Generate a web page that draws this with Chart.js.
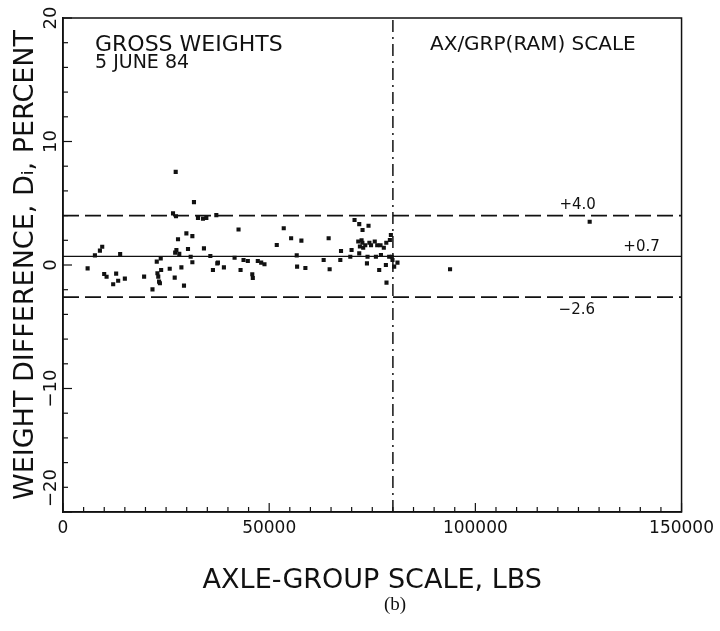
<!DOCTYPE html>
<html><head><meta charset="utf-8">
<script src="https://cdn.jsdelivr.net/npm/chart.js@4.4.0/dist/chart.umd.min.js"></script>
<style>html,body{margin:0;padding:0;background:#fff}#wrap{width:720px;height:631px;position:relative}</style>
</head><body><div id="wrap"><canvas id="c" width="720" height="631"></canvas></div>
<script>
// Axle-group scale weight (lbs) and weight difference Di (percent)
const axleGroupLbs = [
  5970, 7740, 8950, 9510, 9990, 10570, 12170, 12890, 13380, 13860, 15000,
  19670, 21700, 22740, 22900, 23100, 23300, 23500, 23700, 23800, 25880,
  26680, 27400, 27090, 27330, 27500, 27200, 27890, 28200, 28710, 29340,
  29920, 30310, 30960, 31370, 31370, 31760, 32730, 33940, 34180, 34760,
  35730, 36360, 37180, 37420, 37570, 39020, 41610, 42570, 43060, 43780,
  44820, 45900, 46030, 47240, 48060, 48860, 51840, 53530, 55320, 56680,
  56770, 57810, 58780, 63210, 64420, 64660, 67250, 67420, 69670, 69980,
  70700, 71840, 72640, 74090, 71600, 72000, 72400, 72800, 73300, 72600,
  74300, 74700, 75600, 76200, 77000, 77800, 78400, 79510, 79270, 71840,
  73850, 73710, 75880, 77100, 76680, 79100, 79750, 79900, 80310, 81110,
  78300, 78450, 93860, 127720
];
const weightDiffPct = [
  -0.27, 0.78, 1.16, 1.48, -0.73, -0.95, -1.56, -0.70, -1.27, 0.89, -1.10,
  -0.94, -1.97, 0.27, -0.67, -0.94, -1.35, -1.48, 0.54, -0.40, -0.30,
  4.18, 3.95, -1.02, 7.54, 1.21, 1.00, 2.08, 0.90, -0.19, -1.67,
  2.56, 1.29, 0.67, 2.34, 0.22, 5.09, 3.80, 3.75, 1.35, 3.80,
  0.73, -0.40, 4.04, 0.13, 0.19, -0.19, 0.59, 2.88, -0.40, 0.40,
  0.32, -0.75, -1.05, 0.32, 0.19, 0.06, 1.62, 2.97, 2.16, 0.78,
  -0.13, 1.97, -0.24, 0.40, 2.16, -0.35, 0.40, 1.13, 0.67, 1.21,
  3.64, 3.31, 2.83, 3.18, 1.90, 1.50, 2.00, 1.40, 1.60, 1.80,
  1.80, 1.60, 1.90, 1.60, 1.60, 1.40, 1.80, 2.43, 2.02, 0.94,
  0.67, 0.13, 0.67, 0.81, -0.40, 0.67, 0.67, 0.40, -0.13, 0.19,
  0.00, -1.43, -0.35, 3.50
];
const upperLimit = 4.0;
const meanDiff = 0.7;
const lowerLimit = -2.6;
const scaleCapacityLbs = 80000;
const xRange = [0, 150000];
const yRange = [-20, 20];
const yTickLabels = [20, 10, 0, -10, -20];
const limitLabels = ['+4.0', '+0.7', '\u22122.6'];

const points = axleGroupLbs.map((x, i) => ({x: x, y: weightDiffPct[i]}));
const hLine = v => [{x: xRange[0], y: v}, {x: xRange[1], y: v}];

const FONT = "'DejaVu Sans', sans-serif";

const decor = {
  id: 'decor',
  afterDraw(chart) {
    const ctx = chart.ctx, a = chart.chartArea;
    const xs = chart.scales.x, ys = chart.scales.y;
    ctx.save();
    ctx.strokeStyle = '#111';
    ctx.lineWidth = 1.5;
    ctx.strokeRect(a.left, a.top, a.right - a.left, a.bottom - a.top);
    // inward tick marks
    ctx.lineWidth = 1.2;
    for (let v = yRange[0]; v <= yRange[1]; v += 2) {
      const py = ys.getPixelForValue(v);
      const len = (v % 10 === 0) ? 9 : 5;
      ctx.beginPath(); ctx.moveTo(a.left, py); ctx.lineTo(a.left + len, py); ctx.stroke();
    }
    for (let v = xRange[0]; v <= xRange[1]; v += 5000) {
      const px = xs.getPixelForValue(v);
      const len = (v % 50000 === 0) ? 9 : 5;
      ctx.beginPath(); ctx.moveTo(px, a.bottom); ctx.lineTo(px, a.bottom - len); ctx.stroke();
    }
    ctx.fillStyle = '#111';
    // rotated y tick labels
    ctx.font = "18px " + FONT;
    ctx.textAlign = 'center';
    ctx.textBaseline = 'middle';
    yTickLabels.forEach(v => {
      let py = ys.getPixelForValue(v);
      if (v === yRange[0]) py -= 24;
      ctx.save();
      ctx.translate(a.left - 12, py);
      ctx.rotate(-Math.PI / 2);
      ctx.fillText(v < 0 ? '\u2212' + Math.abs(v) : String(v), 0, 0);
      ctx.restore();
    });
    ctx.textAlign = 'left';
    ctx.font = "22px " + FONT;
    ctx.fillText('GROSS WEIGHTS', a.left + 32, a.top + 27);
    ctx.font = "19px " + FONT;
    ctx.fillText('5 JUNE 84', a.left + 32, a.top + 45);
    ctx.font = "20px " + FONT;
    ctx.fillText('AX/GRP(RAM) SCALE', a.left + 367, a.top + 27);
    // limit labels
    ctx.font = "15px " + FONT;
    ctx.textAlign = 'center';
    ctx.fillText(limitLabels[0], xs.getPixelForValue(124800), ys.getPixelForValue(upperLimit) - 10);
    ctx.fillText(limitLabels[1], xs.getPixelForValue(140300), ys.getPixelForValue(meanDiff) - 9);
    ctx.fillText(limitLabels[2], xs.getPixelForValue(124600), ys.getPixelForValue(lowerLimit) + 13);
    ctx.font = "19px 'Liberation Serif', serif";
    ctx.fillText('(b)', 395, 605);
    ctx.restore();
  }
};

new Chart(document.getElementById('c'), {
  type: 'scatter',
  data: {
    datasets: [
      {label: 'Di', data: points, pointStyle: 'rect', pointRadius: 2.9, pointHoverRadius: 2.9,
       backgroundColor: '#111', borderColor: '#111', borderWidth: 0, order: 0},
      {type: 'line', label: 'upper', data: hLine(upperLimit), borderColor: '#111', borderWidth: 1.6,
       borderDash: [16, 6], pointRadius: 0, fill: false, order: 1},
      {type: 'line', label: 'mean', data: hLine(meanDiff), borderColor: '#111', borderWidth: 1.3,
       pointRadius: 0, fill: false, order: 1},
      {type: 'line', label: 'lower', data: hLine(lowerLimit), borderColor: '#111', borderWidth: 1.6,
       borderDash: [16, 6], pointRadius: 0, fill: false, order: 1},
      {type: 'line', label: 'capacity', data: [{x: scaleCapacityLbs, y: yRange[0]}, {x: scaleCapacityLbs, y: yRange[1]}],
       borderColor: '#111', borderWidth: 1.5, borderDash: [12, 5, 2, 5], pointRadius: 0, fill: false, order: 1}
    ]
  },
  options: {
    responsive: false,
    animation: false,
    devicePixelRatio: 1,
    layout: {padding: {top: 18, right: 37, left: 0, bottom: 0}},
    plugins: {legend: {display: false}, tooltip: {enabled: false}},
    scales: {
      x: {
        type: 'linear', min: xRange[0], max: xRange[1],
        grid: {display: false, drawTicks: false},
        border: {display: true, color: '#111', width: 1.5},
        ticks: {stepSize: 50000, color: '#111', padding: 6, maxRotation: 0,
                font: {family: FONT, size: 17}, callback: v => String(v)},
        title: {display: true, text: 'AXLE-GROUP SCALE, LBS', color: '#111',
                font: {family: FONT, size: 27}, padding: {top: 0, bottom: 34}},
        afterFit: s => { s.height = 119; }
      },
      y: {
        type: 'linear', min: yRange[0], max: yRange[1],
        grid: {display: false, drawTicks: false},
        border: {display: true, color: '#111', width: 1.5},
        ticks: {display: false, stepSize: 10},
        title: {display: true, text: 'WEIGHT DIFFERENCE, D\u1D62, PERCENT', color: '#111',
                font: {family: FONT, size: 27}, padding: {top: 10, bottom: 0}},
        afterFit: s => { s.width = 63; }
      }
    }
  },
  plugins: [decor]
});
</script>
</body></html>
